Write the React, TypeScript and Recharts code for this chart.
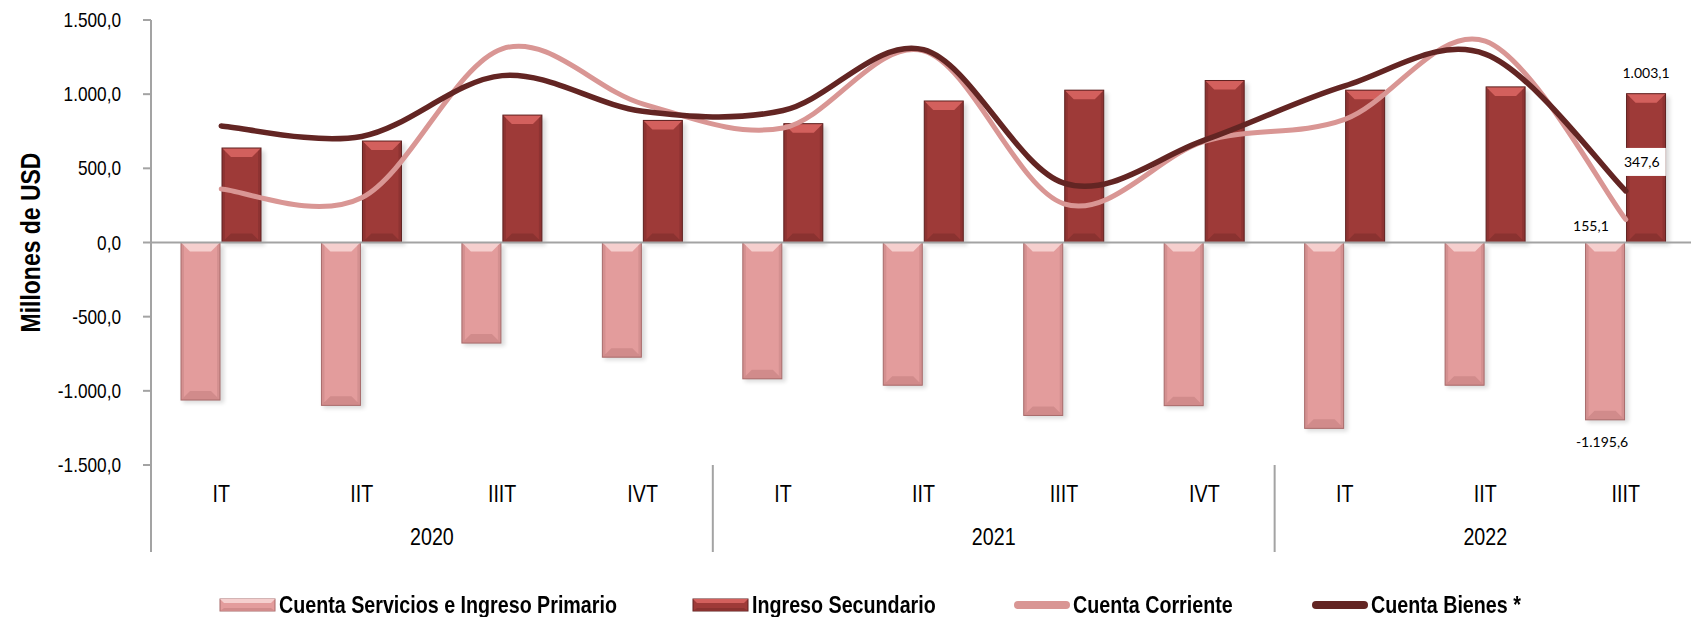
import React from 'react';
import { ComposedChart, Bar, Line, XAxis, YAxis, ReferenceLine, Legend, LabelList } from 'recharts';

// quarters (categories) and the year each one belongs to
const QUARTERS = ['IT', 'IIT', 'IIIT', 'IVT', 'IT', 'IIT', 'IIIT', 'IVT', 'IT', 'IIT', 'IIIT'];
const YEAR_GROUPS = [
  { label: '2020', first: 0, last: 3 },
  { label: '2021', first: 4, last: 7 },
  { label: '2022', first: 8, last: 10 },
];

// millones de USD
const SERVICIOS = [-1062, -1098, -678, -773, -919, -962, -1166, -1100, -1253, -962, -1195.6];
const SECUNDARIO = [637, 684, 859, 823, 801, 954, 1027, 1092, 1027, 1049, 1003.1];
const CORRIENTE = [361, 301, 1306, 935, 772, 1292, 261, 682, 830, 1357, 155.1];
const BIENES = [786, 715, 1125, 885, 890, 1300, 400, 690, 1056, 1270, 347.6];

const Y_TICKS = [-1500, -1000, -500, 0, 500, 1000, 1500];

const NAME_SERV = 'Cuenta Servicios e Ingreso Primario';
const NAME_SEC = 'Ingreso Secundario';
const NAME_CC = 'Cuenta Corriente';
const NAME_BIEN = 'Cuenta Bienes *';

const data = QUARTERS.map((q, i) => ({
  q,
  servicios: SERVICIOS[i],
  secundario: SECUNDARIO[i],
  corriente: CORRIENTE[i],
  bienes: BIENES[i],
}));

const W = 1710;
const H = 617;
const M = { top: 20, right: 14, bottom: 64, left: 0 };
const Y_W = 151;
const X_H = 88;
const BAND = (W - M.left - M.right - Y_W) / QUARTERS.length;
const LAST = QUARTERS.length - 1;

// no Arial Narrow available: squeeze Liberation Sans horizontally
const SANS = "'Liberation Sans', Arial, sans-serif";
const SQUEEZE = 0.82;
const LABEL_FONT = "Lato, 'Open Sans', sans-serif";
const GRID = '#A3A3A3';

type Tone = { fill: string; light: string; dark: string; edge: string };
const PINK: Tone = { fill: '#E39C9C', light: '#F5CFCE', dark: '#D18B8B', edge: '#A86B6B' };
const RED: Tone = { fill: '#9E3A38', light: '#D3605D', dark: '#8A3230', edge: '#5F2120' };
const LINE_CC = '#D99694';
const LINE_BIEN = '#632523';

const fmt = (v: number) => {
  const [i, d] = Math.abs(v).toFixed(1).split('.');
  return (v < 0 ? '-' : '') + i.replace(/\B(?=(\d{3})+(?!\d))/g, '.') + ',' + d;
};

// Excel style smoothed line (Catmull-Rom as cubic bezier)
const excelSmooth = (ctx: any) => {
  let pts: number[][] = [];
  return {
    areaStart() {},
    areaEnd() {},
    lineStart() {
      pts = [];
    },
    point(x: number, y: number) {
      pts.push([+x, +y]);
    },
    lineEnd() {
      if (!pts.length) return;
      ctx.moveTo(pts[0][0], pts[0][1]);
      for (let i = 0; i < pts.length - 1; i++) {
        const p0 = pts[Math.max(i - 1, 0)];
        const p1 = pts[i];
        const p2 = pts[i + 1];
        const p3 = pts[Math.min(i + 2, pts.length - 1)];
        ctx.bezierCurveTo(
          p1[0] + (p2[0] - p0[0]) / 6,
          p1[1] + (p2[1] - p0[1]) / 6,
          p2[0] - (p3[0] - p1[0]) / 6,
          p2[1] - (p3[1] - p1[1]) / 6,
          p2[0],
          p2[1]
        );
      }
    },
  };
};

const NText = ({ x, y, size, bold, anchor = 'middle', rotate = 0, children }: any) => (
  <text
    transform={`translate(${x} ${y}) rotate(${rotate}) scale(${SQUEEZE} 1)`}
    textAnchor={anchor}
    dominantBaseline="central"
    fontSize={size}
    fontWeight={bold ? 'bold' : 'normal'}
    fontFamily={SANS}
    fill="#000"
  >
    {children}
  </text>
);

const bevelBar = (tone: Tone) => (p: any) => {
  const { x, y, width: w, height } = p;
  if (w == null || height == null || isNaN(y)) return <g />;
  const top = height < 0 ? y + height : y;
  const h = Math.abs(height);
  const bot = top + h;
  const b = Math.min(9, h / 2, w / 2);
  return (
    <g>
      <rect x={x + 2} y={top + 3} width={w + 2} height={h} fill="#000" opacity={0.14} filter="url(#barShadow)" />
      <rect x={x} y={top} width={w} height={h} fill={tone.fill} />
      <polygon points={`${x},${top} ${x + w},${top} ${x + w - b},${top + b} ${x + b},${top + b}`} fill={tone.light} />
      <polygon points={`${x},${bot} ${x + w},${bot} ${x + w - b},${bot - b} ${x + b},${bot - b}`} fill={tone.dark} />
      <polygon points={`${x},${top} ${x + 3},${top + 3} ${x + 3},${bot - 3} ${x},${bot}`} fill={tone.edge} opacity={0.25} />
      <polygon points={`${x + w},${top} ${x + w - 3},${top + 3} ${x + w - 3},${bot - 3} ${x + w},${bot}`} fill={tone.edge} opacity={0.25} />
      <rect x={x} y={top} width={w} height={h} fill="none" stroke={tone.edge} strokeWidth={1} />
    </g>
  );
};

const CatTick = (props: any) => {
  const { x, y, payload } = props;
  const i = payload?.index ?? props.index ?? 0;
  const group = YEAR_GROUPS.find((g) => g.first === i);
  return (
    <g>
      <NText x={x} y={y + 29} size={24}>
        {QUARTERS[i]}
      </NText>
      {group && (
        <>
          <line x1={x - BAND / 2} x2={x - BAND / 2} y1={y} y2={y + 87} stroke={GRID} strokeWidth={2} />
          <NText x={x + ((group.last - group.first) / 2) * BAND} y={y + 72} size={24}>
            {group.label}
          </NText>
        </>
      )}
    </g>
  );
};

const ValTick = (props: any) => {
  const { x, y, payload } = props;
  return (
    <NText x={x} y={y} size={21} anchor="end">
      {fmt(payload.value)}
    </NText>
  );
};

const YTitle = (props: any) => {
  const vb = props.viewBox || { y: M.top, height: 445 };
  return (
    <NText x={30} y={vb.y + vb.height / 2} size={28} bold rotate={-90}>
      Millones de USD
    </NText>
  );
};

const labelText = (x: number, y: number, v: number, anchor = 'middle') => (
  <text x={x} y={y} textAnchor={anchor} dominantBaseline="central" fontSize={14} fontFamily={LABEL_FONT} fill="#000">
    {fmt(v)}
  </text>
);

const secLabel = (p: any) =>
  p.index === LAST ? <g>{labelText(p.x + p.width / 2, Math.min(p.y, p.y + p.height) - 21, p.value)}</g> : null;
const servLabel = (p: any) =>
  p.index === LAST ? <g>{labelText(p.x + p.width / 2 - 3, Math.max(p.y, p.y + p.height) + 22, p.value)}</g> : null;
const ccLabel = (p: any) => (p.index === LAST ? <g>{labelText(p.x - 17, p.y + 6, p.value, 'end')}</g> : null);
const bienLabel = (p: any) =>
  p.index === LAST ? (
    <g>
      <rect x={p.x - 8} y={p.y - 43} width={48} height={28} fill="#fff" />
      {labelText(p.x + 16, p.y - 29, p.value)}
    </g>
  ) : null;

const LEGEND = [
  { name: NAME_SERV, kind: 'bar', tone: PINK, left: 219 },
  { name: NAME_SEC, kind: 'bar', tone: RED, left: 692 },
  { name: NAME_CC, kind: 'line', color: LINE_CC, left: 1013 },
  { name: NAME_BIEN, kind: 'line', color: LINE_BIEN, left: 1311 },
];

const LegendContent = () => (
  <div style={{ position: 'relative', width: 1691, height: 28 }}>
    {LEGEND.map((it) => (
      <div
        key={it.name}
        style={{ position: 'absolute', left: it.left, top: 0, height: 28, display: 'flex', alignItems: 'center', whiteSpace: 'nowrap' }}
      >
        <svg width={58} height={14} style={{ marginRight: 2, flex: 'none' }}>
          {it.kind === 'bar' ? (
            <g>
              <rect x={1} y={1} width={55} height={12} fill={it.tone!.fill} stroke={it.tone!.edge} />
              <polygon points="1,1 56,1 52,5 5,5" fill={it.tone!.light} />
              <polygon points="1,13 56,13 52,10 5,10" fill={it.tone!.dark} />
            </g>
          ) : (
            <line x1={5} x2={53} y1={7} y2={7} stroke={it.color} strokeWidth={8} strokeLinecap="round" />
          )}
        </svg>
        <span
          style={{
            display: 'inline-block',
            transform: `scaleX(${SQUEEZE})`,
            transformOrigin: 'left center',
            fontFamily: SANS,
            fontWeight: 'bold',
            fontSize: 24,
            color: '#000',
          }}
        >
          {it.name}
        </span>
      </div>
    ))}
  </div>
);

export default function App() {
  return (
    <div style={{ position: 'absolute', left: 0, top: 0, width: 1691, height: H, overflow: 'hidden', background: '#fff' }}>
      <ComposedChart width={W} height={H} data={data} margin={M} barSize={39} barGap={2}>
        <defs>
          <filter id="barShadow" x="-20%" y="-20%" width="140%" height="140%">
            <feGaussianBlur stdDeviation="2" />
          </filter>
        </defs>
        <XAxis
          dataKey="q"
          height={X_H}
          axisLine={false}
          tickLine={false}
          tickSize={0}
          tickMargin={0}
          interval={0}
          tick={<CatTick />}
        />
        <YAxis
          domain={[-1500, 1500]}
          ticks={Y_TICKS}
          interval={0}
          allowDataOverflow
          width={Y_W}
          axisLine={{ stroke: GRID, strokeWidth: 2 }}
          tickLine={{ stroke: GRID, strokeWidth: 2 }}
          tickSize={8}
          tickMargin={22}
          tick={<ValTick />}
          label={<YTitle />}
        />
        <ReferenceLine y={0} stroke={GRID} strokeWidth={2} />
        <Bar dataKey="servicios" name={NAME_SERV} fill={PINK.fill} shape={bevelBar(PINK)} isAnimationActive={false}>
          <LabelList dataKey="servicios" content={servLabel} />
        </Bar>
        <Bar dataKey="secundario" name={NAME_SEC} fill={RED.fill} shape={bevelBar(RED)} isAnimationActive={false}>
          <LabelList dataKey="secundario" content={secLabel} />
        </Bar>
        <Line
          dataKey="corriente"
          name={NAME_CC}
          type={excelSmooth as any}
          stroke={LINE_CC}
          strokeWidth={5}
          strokeLinecap="round"
          dot={false}
          activeDot={false}
          isAnimationActive={false}
        >
          <LabelList dataKey="corriente" content={ccLabel} />
        </Line>
        <Line
          dataKey="bienes"
          name={NAME_BIEN}
          type={excelSmooth as any}
          stroke={LINE_BIEN}
          strokeWidth={5.5}
          strokeLinecap="round"
          dot={false}
          activeDot={false}
          isAnimationActive={false}
        >
          <LabelList dataKey="bienes" content={bienLabel} />
        </Line>
        <Legend
          layout="horizontal"
          verticalAlign="middle"
          align="center"
          content={<LegendContent />}
          wrapperStyle={{ left: 0, top: 591, width: 1691, height: 28 }}
        />
      </ComposedChart>
    </div>
  );
}
